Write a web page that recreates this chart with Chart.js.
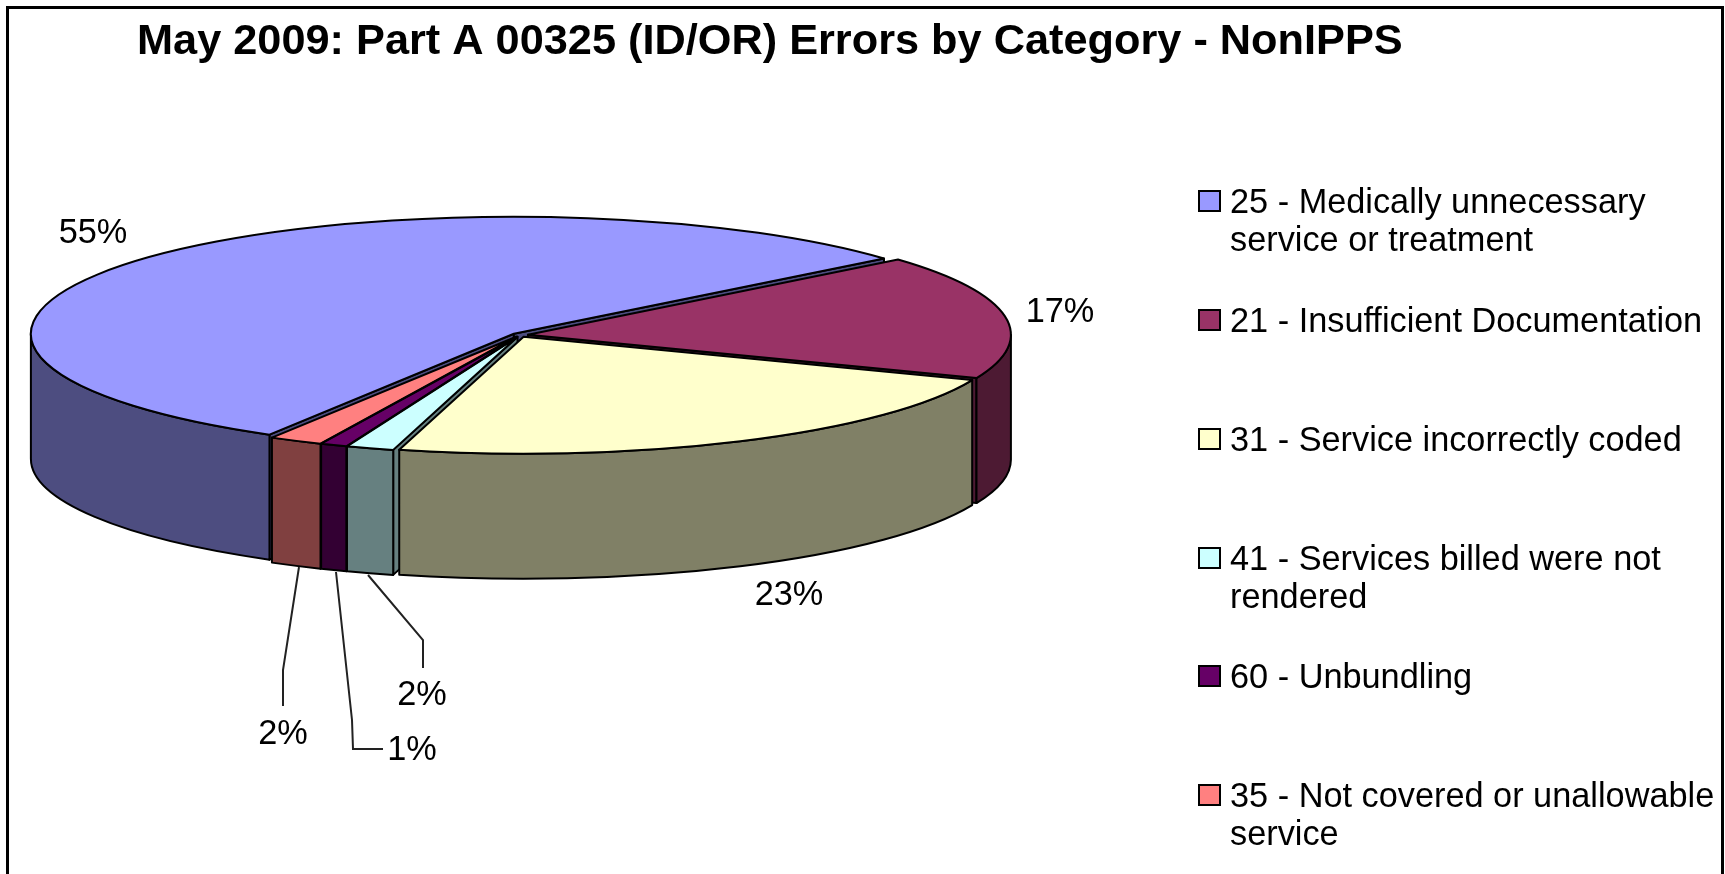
<!DOCTYPE html>
<html>
<head>
<meta charset="utf-8">
<title>Errors by Category</title>
<script src="https://cdn.jsdelivr.net/npm/chart.js@4"></script>
<style>
html, body { margin: 0; background: #fff; overflow: hidden; }
canvas { display: block; }
</style>
</head>
<body>
<canvas id="errors" width="1725" height="874"></canvas>
<script>
var chartTitle = "May 2009: Part A 00325 (ID/OR) Errors by Category - NonIPPS";
var categories = [
    ["25 - Medically unnecessary", "service or treatment"],
    ["21 - Insufficient Documentation"],
    ["31 - Service incorrectly coded"],
    ["41 - Services billed were not", "rendered"],
    ["60 - Unbundling"],
    ["35 - Not covered or unallowable", "service"]
];
// percent shares (they round to the printed labels)
var shares = [55.45, 17.15, 23.1, 1.6, 0.9, 1.8];

var topColors = ["#9999ff", "#993366", "#ffffcc", "#ccffff", "#660066", "#ff8080"];
var sideColors = ["#4d4d80", "#4d1a33", "#808066", "#668080", "#330033", "#804040"];
// back to front
var paintOrder = [0, 1, 5, 4, 3, 2];

// squash, extrusion and explosion of the pie
var tilt = 0.2422;
var depth = 125;
var explode = 8;

var font = '"Liberation Sans", Arial, sans-serif';
var labelSpots = [[93, 234], [1060, 313], [789, 596], [422, 696], [412, 751], [283, 735]];
var legendY = [201, 320, 439, 558, 676, 795];
var leaders = [
    [[368, 575], [423, 640], [423, 668]],
    [[336, 572], [352, 720], [353, 749], [383, 749]],
    [[299, 567], [283, 670], [283, 706]]
];

function geom(arc) {
    var mid = (arc.startAngle + arc.endAngle) / 2;
    return {
        x: arc.x + Math.cos(mid) * explode,
        y: arc.y + Math.sin(mid) * explode * tilt,
        rx: arc.outerRadius,
        ry: arc.outerRadius * tilt,
        a: arc.startAngle,
        b: arc.endAngle,
        mid: mid
    };
}

function drawFace(ctx, g, angle) {
    var px = g.x + Math.cos(angle) * g.rx;
    var py = g.y + Math.sin(angle) * g.ry;
    ctx.beginPath();
    ctx.moveTo(g.x, g.y);
    ctx.lineTo(px, py);
    ctx.lineTo(px, py + depth);
    ctx.lineTo(g.x, g.y + depth);
    ctx.closePath();
    ctx.fill();
    ctx.stroke();
}

function drawWall(ctx, g) {
    // only the part of the rim that faces the viewer
    for (var n = -1; n < 3; n++) {
        var lo = Math.max(g.a, n * 2 * Math.PI);
        var hi = Math.min(g.b, Math.PI + n * 2 * Math.PI);
        if (hi <= lo) continue;
        ctx.beginPath();
        ctx.ellipse(g.x, g.y, g.rx, g.ry, 0, lo, hi);
        ctx.ellipse(g.x, g.y + depth, g.rx, g.ry, 0, hi, lo, true);
        ctx.closePath();
        ctx.fill();
        ctx.stroke();
    }
}

var pie3d = {
    id: "pie3d",
    beforeDatasetsDraw: function (chart) {
        var ctx = chart.ctx;
        var arcs = chart.getDatasetMeta(0).data;
        ctx.save();
        ctx.strokeStyle = "#000";
        ctx.lineWidth = 2;
        ctx.lineJoin = "round";
        paintOrder.forEach(function (i) {
            var g = geom(arcs[i]);
            ctx.fillStyle = sideColors[i];
            // cut faces turned towards the viewer only
            if (Math.cos(g.a) < 0) drawFace(ctx, g, g.a);
            if (Math.cos(g.b) > 0) drawFace(ctx, g, g.b);
        });
        paintOrder.forEach(function (i) {
            ctx.fillStyle = sideColors[i];
            drawWall(ctx, geom(arcs[i]));
        });
        ctx.restore();

        // the library draws the top faces through this squash, each slice pushed out a little
        arcs.forEach(function (arc) {
            arc.draw = function (c) {
                var mid = (this.startAngle + this.endAngle) / 2;
                c.save();
                c.translate(Math.cos(mid) * explode, Math.sin(mid) * explode);
                Chart.ArcElement.prototype.draw.call(this, c);
                c.restore();
            };
        });
        var cy = arcs[0].y;
        ctx.save();
        ctx.translate(0, cy);
        ctx.scale(1, tilt);
        ctx.translate(0, -cy);
    },
    afterDatasetsDraw: function (chart) {
        var ctx = chart.ctx;
        ctx.restore();
        var arcs = chart.getDatasetMeta(0).data;
        ctx.save();
        ctx.strokeStyle = "#000";
        ctx.lineWidth = 2;
        ctx.lineJoin = "round";
        arcs.forEach(function (arc) {
            var g = geom(arc);
            ctx.beginPath();
            ctx.moveTo(g.x, g.y);
            ctx.ellipse(g.x, g.y, g.rx, g.ry, 0, g.a, g.b);
            ctx.closePath();
            ctx.stroke();
        });
        ctx.restore();
    },
    afterDraw: function (chart) {
        var ctx = chart.ctx;
        ctx.save();

        // frame
        ctx.strokeStyle = "#000";
        ctx.lineWidth = 3;
        ctx.strokeRect(7.5, 7.5, 1715, 900);

        ctx.fillStyle = "#000";
        ctx.textBaseline = "alphabetic";
        ctx.textAlign = "left";
        ctx.font = "bold 43.3px " + font;
        ctx.fillText(chartTitle, 137, 54);

        // leader lines
        ctx.strokeStyle = "#222";
        ctx.lineWidth = 2;
        leaders.forEach(function (pts) {
            ctx.beginPath();
            pts.forEach(function (p, i) {
                if (i === 0) ctx.moveTo(p[0], p[1]);
                else ctx.lineTo(p[0], p[1]);
            });
            ctx.stroke();
        });

        // percent labels
        ctx.font = "34.3px " + font;
        ctx.textAlign = "center";
        ctx.textBaseline = "middle";
        shares.forEach(function (v, i) {
            ctx.fillText(Math.round(v) + "%", labelSpots[i][0], labelSpots[i][1]);
        });

        // legend, the library one cannot wrap its labels
        ctx.textAlign = "left";
        ctx.textBaseline = "alphabetic";
        ctx.lineWidth = 2;
        ctx.strokeStyle = "#000";
        chart.data.labels.forEach(function (lines, i) {
            var y = legendY[i];
            ctx.fillStyle = topColors[i];
            ctx.fillRect(1199, y - 10, 21, 20);
            ctx.strokeRect(1199, y - 10, 21, 20);
            ctx.fillStyle = "#000";
            lines.forEach(function (line, j) {
                ctx.fillText(line, 1230, y + 12 + j * 38);
            });
        });
        ctx.restore();
    }
};

new Chart("errors", {
    type: "pie",
    data: {
        labels: categories,
        datasets: [{
            data: shares,
            backgroundColor: topColors,
            borderWidth: 0,
            hoverOffset: 0,
            clip: false
        }]
    },
    options: {
        responsive: false,
        animation: false,
        events: [],
        rotation: 210.4,
        radius: 483,
        layout: { padding: { right: 685, bottom: 204 } },
        plugins: {
            legend: { display: false },
            title: { display: false },
            tooltip: { enabled: false }
        }
    },
    plugins: [pie3d]
});
</script>
</body>
</html>
